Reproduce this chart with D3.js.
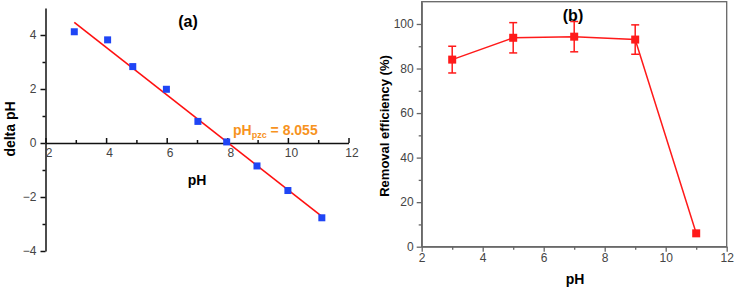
<!DOCTYPE html>
<meta charset="utf-8">
<script src="https://d3js.org/d3.v7.min.js"></script>
<title>pHpzc and removal efficiency</title>
<style>
  body { margin: 0; background: #fff; }
  svg { display: block; font-family: "Liberation Sans", Arial, sans-serif; }
  .tick text { fill: #444; font-size: 12px; }
</style>
<div id="chart"></div>
<script>
  // panel (a): delta pH vs initial pH
  const phA = [2.95, 4.05, 4.88, 5.99, 7.03, 7.98, 8.98, 10.0, 11.12];
  const deltaA = [4.12, 3.82, 2.83, 1.99, 0.80, 0.04, -0.85, -1.76, -2.77];
  // fitted line end points
  const fitX = [2.95, 11.12];
  const fitY = [4.47, -2.72];

  // panel (b): removal efficiency vs pH
  const phB = [3, 5, 7, 9, 11];
  const removal = [84, 93.8, 94.3, 93, 6];
  const removalErr = [6, 6.8, 6.8, 6.6, 0];

  const majorA_x = [2, 4, 6, 8, 10, 12], minorA_x = [3, 5, 7, 9, 11];
  const majorA_y = [-4, -2, 0, 2, 4], minorA_y = [-3, -1, 1, 3];
  const majorB_x = [2, 4, 6, 8, 10, 12], minorB_x = [3, 5, 7, 9, 11];
  const majorB_y = [0, 20, 40, 60, 80, 100], minorB_y = [10, 30, 50, 70, 90];

  const W = 734, H = 291;
  const svg = d3.select("#chart").append("svg")
      .attr("width", W).attr("height", H);

  // ---------- panel (a) ----------
  const xA = d3.scaleLinear().domain([2, 12]).range([45.5, 348.5]);
  const yA = d3.scaleLinear().domain([-4, 5]).range([251, 8]);

  const gA = svg.append("g");

  // y axis (ticks outward)
  gA.append("g")
      .attr("transform", `translate(${xA(2)},0)`)
      .call(d3.axisLeft(yA).tickValues(minorA_y).tickSize(3).tickFormat("").tickSizeOuter(0))
      .call(g => g.select(".domain").remove());
  gA.append("g")
      .attr("transform", `translate(${xA(2)},0)`)
      .call(d3.axisLeft(yA).tickValues(majorA_y).tickSize(5).tickPadding(4).tickSizeOuter(0));

  // x axis through zero, ticks pointing up
  gA.append("g")
      .attr("transform", `translate(0,${yA(0)})`)
      .call(d3.axisBottom(xA).tickValues(minorA_x).tickSize(-3).tickFormat("").tickSizeOuter(0))
      .call(g => g.select(".domain").remove());
  gA.append("g")
      .attr("transform", `translate(0,${yA(0)})`)
      .call(d3.axisBottom(xA).tickValues(majorA_x).tickSize(-5).tickPadding(5).tickSizeOuter(0))
      .call(g => g.selectAll(".tick text").attr("dx", "3px"));

  gA.selectAll(".domain, .tick line").attr("stroke", "#111").attr("stroke-width", 1.5);

  // fit line
  gA.append("line")
      .attr("x1", xA(fitX[0])).attr("y1", yA(fitY[0]))
      .attr("x2", xA(fitX[1])).attr("y2", yA(fitY[1]))
      .attr("stroke", "#ff1010").attr("stroke-width", 1.6);

  // points
  gA.selectAll("rect.pt")
      .data(phA.map((d, i) => ({x: d, y: deltaA[i]})))
      .join("rect")
      .attr("class", "pt")
      .attr("x", d => xA(d.x) - 3.5)
      .attr("y", d => yA(d.y) - 3.5)
      .attr("width", 7).attr("height", 7)
      .attr("fill", "#1f45f5");

  // labels
  gA.append("text")
      .attr("x", 188).attr("y", 27)
      .attr("text-anchor", "middle")
      .style("font-size", "16px").style("font-weight", "bold")
      .text("(a)");

  gA.append("text")
      .attr("transform", "translate(15,129) rotate(-90)")
      .attr("text-anchor", "middle")
      .style("font-size", "14px").style("font-weight", "bold")
      .text("delta pH");

  gA.append("text")
      .attr("x", 197).attr("y", 185)
      .attr("text-anchor", "middle")
      .style("font-size", "14px").style("font-weight", "bold")
      .text("pH");

  const pzc = gA.append("text")
      .attr("x", 233).attr("y", 135)
      .attr("fill", "#f7931e")
      .style("font-size", "14px").style("font-weight", "bold");
  pzc.append("tspan").text("pH");
  pzc.append("tspan").attr("dy", 3).style("font-size", "9px").text("pzc");
  pzc.append("tspan").attr("dy", -3).text(" = 8.055");

  // ---------- panel (b) ----------
  const xB = d3.scaleLinear().domain([2, 12]).range([421.7, 726.7]);
  const yB = d3.scaleLinear().domain([0, 110]).range([246.7, 1.7]);

  const gB = svg.append("g");

  // frame
  gB.append("rect")
      .attr("x", xB(2)).attr("y", yB(110))
      .attr("width", xB(12) - xB(2)).attr("height", yB(0) - yB(110))
      .attr("fill", "none").attr("stroke", "#666").attr("stroke-width", 1.3);

  gB.append("g")
      .attr("transform", `translate(${xB(2)},0)`)
      .call(d3.axisLeft(yB).tickValues(minorB_y).tickSize(3).tickFormat("").tickSizeOuter(0))
      .call(g => g.select(".domain").remove());
  gB.append("g")
      .attr("transform", `translate(${xB(2)},0)`)
      .call(d3.axisLeft(yB).tickValues(majorB_y).tickSize(5).tickPadding(3).tickSizeOuter(0));

  gB.append("g")
      .attr("transform", `translate(0,${yB(0)})`)
      .call(d3.axisBottom(xB).tickValues(minorB_x).tickSize(3).tickFormat("").tickSizeOuter(0))
      .call(g => g.select(".domain").remove());
  gB.append("g")
      .attr("transform", `translate(0,${yB(0)})`)
      .call(d3.axisBottom(xB).tickValues(majorB_x).tickSize(5).tickPadding(2).tickSizeOuter(0));

  gB.selectAll(".domain, .tick line").attr("stroke", "#666").attr("stroke-width", 1.3);

  const dataB = phB.map((d, i) => ({x: d, y: removal[i], e: removalErr[i]}));

  gB.append("path")
      .datum(dataB)
      .attr("fill", "none")
      .attr("stroke", "#ff1a1a").attr("stroke-width", 1.5)
      .attr("d", d3.line().x(d => xB(d.x)).y(d => yB(d.y)));

  const eb = gB.selectAll("g.err")
      .data(dataB.filter(d => d.e > 0))
      .join("g").attr("class", "err")
      .attr("stroke", "#ff1a1a").attr("stroke-width", 1.5);
  eb.append("line")
      .attr("x1", d => xB(d.x)).attr("x2", d => xB(d.x))
      .attr("y1", d => yB(d.y - d.e)).attr("y2", d => yB(d.y + d.e));
  eb.append("line")
      .attr("x1", d => xB(d.x) - 4).attr("x2", d => xB(d.x) + 4)
      .attr("y1", d => yB(d.y - d.e)).attr("y2", d => yB(d.y - d.e));
  eb.append("line")
      .attr("x1", d => xB(d.x) - 4).attr("x2", d => xB(d.x) + 4)
      .attr("y1", d => yB(d.y + d.e)).attr("y2", d => yB(d.y + d.e));

  gB.selectAll("rect.pt")
      .data(dataB)
      .join("rect")
      .attr("class", "pt")
      .attr("x", d => xB(d.x) - 4)
      .attr("y", d => yB(d.y) - 4)
      .attr("width", 8).attr("height", 8)
      .attr("fill", "#ff1a1a");

  gB.append("text")
      .attr("x", 573).attr("y", 21)
      .attr("text-anchor", "middle")
      .style("font-size", "16px").style("font-weight", "bold")
      .text("(b)");

  gB.append("text")
      .attr("transform", "translate(389,126) rotate(-90)")
      .attr("text-anchor", "middle")
      .style("font-size", "13px").style("font-weight", "bold")
      .text("Removal efficiency (%)");

  gB.append("text")
      .attr("x", 575).attr("y", 284)
      .attr("text-anchor", "middle")
      .style("font-size", "14px").style("font-weight", "bold")
      .text("pH");
</script>
